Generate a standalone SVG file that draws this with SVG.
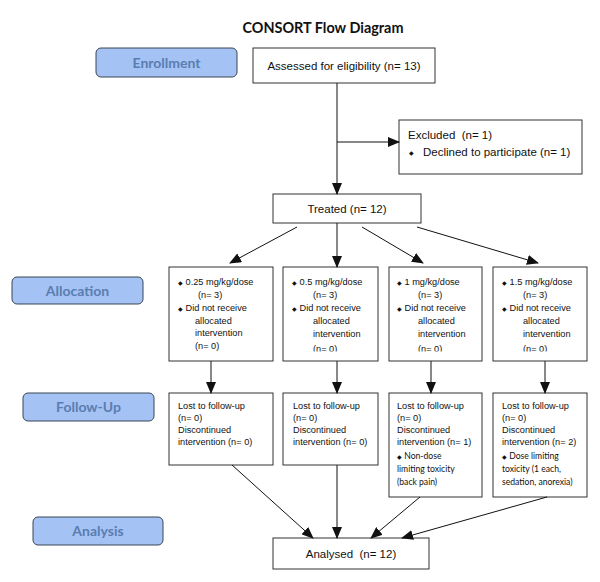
<svg xmlns="http://www.w3.org/2000/svg" width="600" height="582" viewBox="0 0 600 582">
<style>
.bg{fill:#fff}
.box{fill:#fff;stroke:#333;stroke-width:1}
.lbl{fill:#a4c2f4;stroke:#3a4656;stroke-width:1}
.lt{font-family:Lato,"Open Sans",sans-serif;font-weight:bold;font-size:14px;fill:#5a7db0;text-anchor:middle}
.t{font-family:"Liberation Sans",Arial,sans-serif;font-size:11.5px;fill:#111;white-space:pre}
.s{font-family:"Liberation Sans",Arial,sans-serif;font-size:9.2px;fill:#111}
.c{font-family:Lato,"Open Sans",sans-serif;font-size:8.6px;fill:#111}
.b{font-size:6px}
.con line{stroke:#111;stroke-width:1}
</style>
<defs>
<marker id="ah" markerWidth="12" markerHeight="10" refX="11" refY="5" orient="auto" markerUnits="userSpaceOnUse">
<path d="M0,0 L12,5 L0,10 Z" fill="#111"/>
</marker>
<clipPath id="c2"><rect x="283" y="267" width="95" height="84.5"/></clipPath>
<clipPath id="c3"><rect x="389" y="267" width="93" height="84.5"/></clipPath>
<clipPath id="c4"><rect x="493" y="267" width="94" height="84.5"/></clipPath>
</defs>
<rect class="bg" width="600" height="582"/>
<text x="323" y="33" font-family="Lato,'Open Sans',sans-serif" font-weight="bold" font-size="15" text-anchor="middle" fill="#111" textLength="161" lengthAdjust="spacingAndGlyphs">CONSORT Flow Diagram</text>

<g id="enrollment"><rect class="lbl" x="96" y="48" width="141" height="29" rx="5"/><text class="lt" x="166.5" y="67.5">Enrollment</text></g>
<g id="allocation"><rect class="lbl" x="12" y="277" width="131" height="27" rx="5"/><text class="lt" x="77.5" y="295.5">Allocation</text></g>
<g id="followup"><rect class="lbl" x="23" y="393" width="131" height="28" rx="5"/><text class="lt" x="88.5" y="412">Follow-Up</text></g>
<g id="analysis"><rect class="lbl" x="33" y="517" width="130" height="28" rx="5"/><text class="lt" x="98" y="536">Analysis</text></g>

<g id="assessed"><rect class="box" x="253" y="48" width="182" height="35"/><text class="t" x="344" y="70" text-anchor="middle">Assessed for eligibility (n= 13)</text></g>
<g id="excluded"><rect class="box" x="399" y="120" width="183" height="54"/><text class="t" x="408" y="139">Excluded  (n= 1)</text><text class="t b" x="409" y="155">◆</text><text class="t" x="423" y="156">Declined to participate (n= 1)</text></g>
<g id="treated"><rect class="box" x="273" y="194" width="148" height="29"/><text class="t" x="347" y="213" text-anchor="middle">Treated (n= 12)</text></g>

<g id="alloc1"><rect class="box" x="169" y="267" width="104" height="94"/>
<text class="s" x="178" y="285"><tspan class="b">◆</tspan> 0.25 mg/kg/dose</text><text class="s" x="198" y="298">(n= 3)</text>
<text class="s" x="178" y="311"><tspan class="b">◆</tspan> Did not receive</text><text class="s" x="195" y="324">allocated</text><text class="s" x="195" y="336">intervention</text><text class="s" x="195" y="349">(n= 0)</text></g>
<g id="alloc2"><rect class="box" x="283" y="267" width="95" height="94"/><g clip-path="url(#c2)">
<text class="s" x="292" y="285"><tspan class="b">◆</tspan> 0.5 mg/kg/dose</text><text class="s" x="313" y="298">(n= 3)</text>
<text class="s" x="292" y="311"><tspan class="b">◆</tspan> Did not receive</text><text class="s" x="313" y="324">allocated</text><text class="s" x="313" y="337">intervention</text><text class="s" x="313" y="352">(n= 0)</text></g></g>
<g id="alloc3"><rect class="box" x="389" y="267" width="93" height="94"/><g clip-path="url(#c3)">
<text class="s" x="397" y="285"><tspan class="b">◆</tspan> 1 mg/kg/dose</text><text class="s" x="418" y="298">(n= 3)</text>
<text class="s" x="397" y="311"><tspan class="b">◆</tspan> Did not receive</text><text class="s" x="418" y="324">allocated</text><text class="s" x="418" y="337">intervention</text><text class="s" x="418" y="352">(n= 0)</text></g></g>
<g id="alloc4"><rect class="box" x="493" y="267" width="94" height="94"/><g clip-path="url(#c4)">
<text class="s" x="502" y="285"><tspan class="b">◆</tspan> 1.5 mg/kg/dose</text><text class="s" x="523" y="298">(n= 3)</text>
<text class="s" x="502" y="311"><tspan class="b">◆</tspan> Did not receive</text><text class="s" x="523" y="324">allocated</text><text class="s" x="523" y="337">intervention</text><text class="s" x="523" y="352">(n= 0)</text></g></g>

<g id="fu1"><rect class="box" x="169" y="393" width="104" height="72"/>
<text class="s" x="178" y="409">Lost to follow-up</text><text class="s" x="178" y="421">(n= 0)</text><text class="s" x="178" y="433">Discontinued</text><text class="s" x="178" y="445">intervention (n= 0)</text></g>
<g id="fu2"><rect class="box" x="283" y="393" width="95" height="72"/>
<text class="s" x="293" y="409">Lost to follow-up</text><text class="s" x="293" y="421">(n= 0)</text><text class="s" x="293" y="433">Discontinued</text><text class="s" x="293" y="445">intervention (n= 0)</text></g>
<g id="fu3"><rect class="box" x="389" y="393" width="93" height="104"/>
<text class="s" x="397" y="409">Lost to follow-up</text><text class="s" x="397" y="421">(n= 0)</text><text class="s" x="397" y="433">Discontinued</text><text class="s" x="397" y="445">intervention (n= 1)</text>
<text class="c" x="397" y="459"><tspan class="b">◆</tspan> Non-dose</text><text class="c" x="397" y="472">limiting toxicity</text><text class="c" x="397" y="485">(back pain)</text></g>
<g id="fu4"><rect class="box" x="493" y="393" width="94" height="104"/>
<text class="s" x="502" y="409">Lost to follow-up</text><text class="s" x="502" y="421">(n= 0)</text><text class="s" x="502" y="433">Discontinued</text><text class="s" x="502" y="445">intervention (n= 2)</text>
<text class="c" x="502" y="459"><tspan class="b">◆</tspan> Dose limiting</text><text class="c" x="502" y="472">toxicity (1 each,</text><text class="c" x="502" y="485">sedation, anorexia)</text></g>

<g id="analysed"><rect class="box" x="273" y="538" width="156" height="31"/><text class="t" x="351" y="558" text-anchor="middle">Analysed  (n= 12)</text></g>

<g class="con" id="connectors">
<line x1="337" y1="83" x2="337" y2="194" marker-end="url(#ah)"/>
<line x1="337" y1="142" x2="399" y2="142" marker-end="url(#ah)"/>
<line x1="297" y1="227" x2="230" y2="263" marker-end="url(#ah)"/>
<line x1="337" y1="223" x2="337" y2="267" marker-end="url(#ah)"/>
<line x1="362" y1="227" x2="423" y2="263" marker-end="url(#ah)"/>
<line x1="417" y1="227" x2="538" y2="263" marker-end="url(#ah)"/>
<line x1="211" y1="361" x2="211" y2="393" marker-end="url(#ah)"/>
<line x1="337" y1="361" x2="337" y2="393" marker-end="url(#ah)"/>
<line x1="431" y1="361" x2="431" y2="393" marker-end="url(#ah)"/>
<line x1="545" y1="361" x2="545" y2="393" marker-end="url(#ah)"/>
<line x1="232" y1="465" x2="313" y2="538" marker-end="url(#ah)"/>
<line x1="337" y1="465" x2="337" y2="538" marker-end="url(#ah)"/>
<line x1="420" y1="497" x2="371" y2="538" marker-end="url(#ah)"/>
<line x1="547" y1="497" x2="402" y2="538" marker-end="url(#ah)"/>
</g>
</svg>
